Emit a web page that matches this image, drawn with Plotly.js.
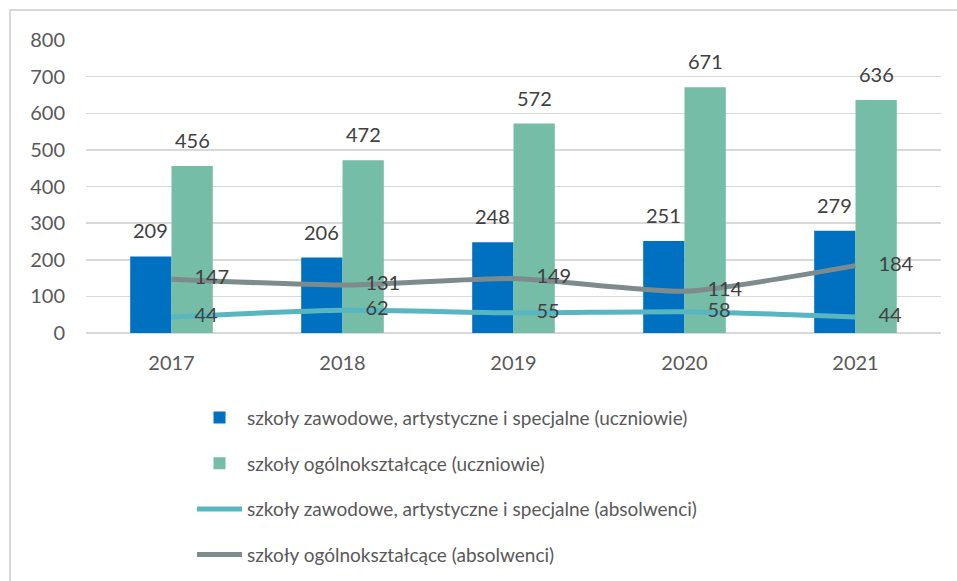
<!DOCTYPE html>
<html>
<head>
<meta charset="utf-8">
<script src="https://cdn.plot.ly/plotly-3.0.1.min.js"></script>
<style>html,body{margin:0;padding:0;background:#fff;}#chart{width:957px;height:581px;}</style>
</head>
<body>
<div id="chart"></div>
<script>
var years = ['2017', '2018', '2019', '2020', '2021'];
var zawodoweUczniowie = [209, 206, 248, 251, 279];
var ogolnoUczniowie = [456, 472, 572, 671, 636];
var zawodoweAbsolwenci = [44, 62, 55, 58, 44];
var ogolnoAbsolwenci = [147, 131, 149, 114, 184];
var seriesNames = [
  'szkoły zawodowe, artystyczne i specjalne (uczniowie)',
  'szkoły ogólnokształcące (uczniowie)',
  'szkoły zawodowe, artystyczne i specjalne (absolwenci)',
  'szkoły ogólnokształcące (absolwenci)'
];
var yTicks = [0, 100, 200, 300, 400, 500, 600, 700, 800];

var FONT = 'Lato, "Open Sans", sans-serif';
var LABEL_COLOR = '#404040';
var plotW = 855, bargap = 0.517;
var barPx = plotW / years.length * (1 - bargap) / 2;

var traces = [
  {type: 'bar', x: years, y: zawodoweUczniowie, name: seriesNames[0],
   marker: {color: '#0070C0'}, legendgroup: 'a', hoverinfo: 'y'},
  {type: 'bar', x: years, y: ogolnoUczniowie, name: seriesNames[1],
   marker: {color: '#75BDA7'}, legendgroup: 'b', hoverinfo: 'y'},
  {type: 'scatter', mode: 'lines+markers+text', x: years, y: zawodoweAbsolwenci, name: seriesNames[2],
   line: {color: '#58B6C0', width: 5, shape: 'spline', smoothing: 0.6},
   marker: {size: 35, color: 'rgba(0,0,0,0)'},
   text: zawodoweAbsolwenci.map(String), textposition: 'middle right',
   textfont: {family: FONT, size: 20, color: LABEL_COLOR}, legendgroup: 'c', hoverinfo: 'y'},
  {type: 'scatter', mode: 'lines+markers+text', x: years, y: ogolnoAbsolwenci, name: seriesNames[3],
   line: {color: '#7D8B8C', width: 5, shape: 'spline', smoothing: 0.6},
   marker: {size: 35, color: 'rgba(0,0,0,0)'},
   text: ogolnoAbsolwenci.map(String), textposition: 'middle right',
   textfont: {family: FONT, size: 20, color: LABEL_COLOR}, legendgroup: 'd', hoverinfo: 'y'}
];

var annotations = [];
years.forEach(function (yr, i) {
  annotations.push({x: i, y: zawodoweUczniowie[i], xref: 'x', yref: 'y', text: String(zawodoweUczniowie[i]),
    showarrow: false, xshift: -barPx / 2, yshift: 12, yanchor: 'bottom',
    font: {family: FONT, size: 20, color: LABEL_COLOR}});
  annotations.push({x: i, y: ogolnoUczniowie[i], xref: 'x', yref: 'y', text: String(ogolnoUczniowie[i]),
    showarrow: false, xshift: barPx / 2, yshift: 12, yanchor: 'bottom',
    font: {family: FONT, size: 20, color: LABEL_COLOR}});
});

var layout = {
  width: 957, height: 581,
  margin: {l: 86, r: 16, t: 40, b: 248, autoexpand: false},
  paper_bgcolor: '#ffffff', plot_bgcolor: '#ffffff',
  font: {family: FONT, size: 20, color: '#595959'},
  barmode: 'group', bargap: bargap, bargroupgap: 0,
  showlegend: true,
  legend: {x: 0.124, y: -0.224, xanchor: 'left', yanchor: 'top', orientation: 'v',
    font: {family: FONT, size: 19, color: '#595959'}, tracegroupgap: 18, itemwidth: 45,
    bgcolor: 'rgba(0,0,0,0)'},
  xaxis: {type: 'category', range: [-0.5, years.length - 0.5], autorange: false,
    showgrid: false, ticks: '', showline: false, zeroline: false,
    tickfont: {family: FONT, size: 20, color: '#595959'}, ticklabelstandoff: 16},
  yaxis: {range: [0, 800], autorange: false, tickvals: yTicks, ticktext: yTicks.map(String), showgrid: true,
    gridcolor: '#D9D9D9', gridwidth: 1.5, zeroline: true, zerolinecolor: '#D9D9D9', zerolinewidth: 1.5,
    showline: false, ticks: '', tickfont: {family: FONT, size: 20, color: '#595959'}, ticklabelstandoff: 20},
  annotations: annotations,
  shapes: [{type: 'rect', xref: 'paper', yref: 'paper', x0: -76 / 855, x1: 1.2, y0: -1.5, y1: 323 / 293,
    line: {color: '#D9D9D9', width: 2}, fillcolor: 'rgba(0,0,0,0)', layer: 'below'}]
};

Plotly.newPlot('chart', traces, layout, {displayModeBar: false, staticPlot: true});
</script>
</body>
</html>
